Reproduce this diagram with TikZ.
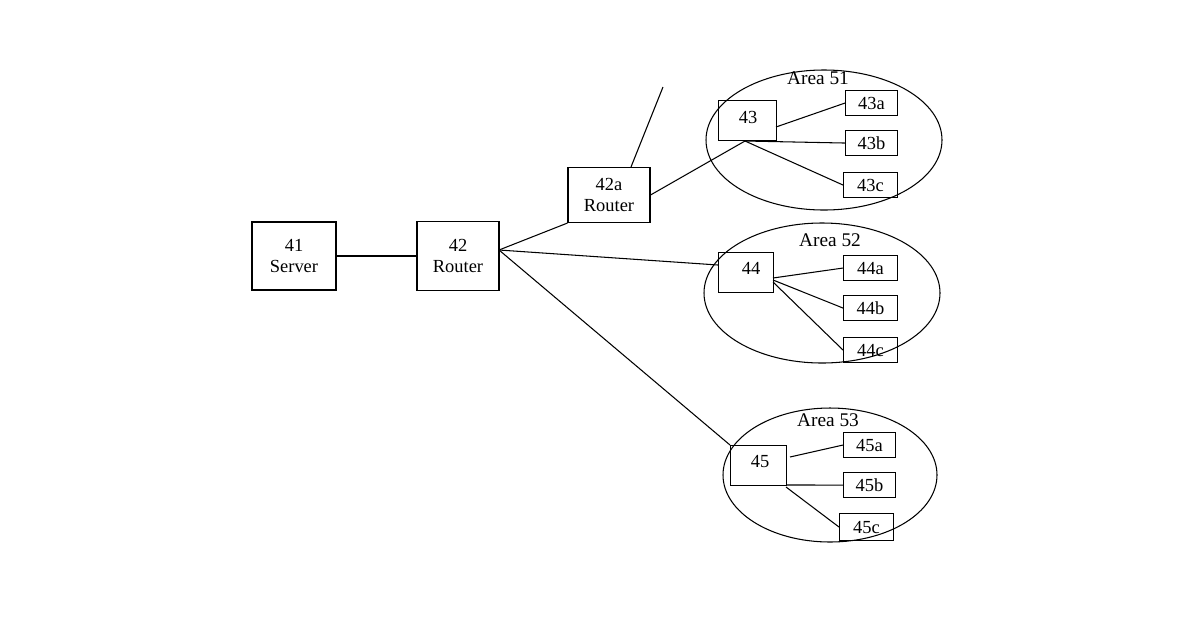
\documentclass[tikz,border=0pt]{standalone}
\usepackage{fontspec}
\setmainfont{Liberation Serif}
\begin{document}
\begin{tikzpicture}[x=0.02cm,y=-0.02cm,
  box/.style={draw,line width=0.6pt,inner sep=0pt,align=center,font=\fontsize{10.5pt}{12pt}\selectfont},
  ln/.style={line width=0.6pt},
  lab/.style={font=\fontsize{11pt}{13pt}\selectfont}]
\useasboundingbox (0,0) rectangle (1200,630);
\node[box,minimum width=84*0.02cm,minimum height=68*0.02cm] (s41) at (294,256) {41\\Server};
\node[box,minimum width=82*0.02cm,minimum height=69*0.02cm] (r42) at (458,256) {42\\Router};
\node[box,minimum width=82*0.02cm,minimum height=55*0.02cm] (r42a) at (609,195) {42a\\Router};
\coordinate (up) at (663,87);
\draw[ln] (r42a.north)++(22*0.02cm,0) coordinate (t) -- (up);
% Area 51
\draw[ln] (824,140) ellipse [x radius=118, y radius=70];
\node[lab] (a51) at (818,78) {Area 51};
\node[box,minimum width=58*0.02cm,minimum height=40*0.02cm,anchor=north west] (n43) at (718,100) {};
\node[font=\fontsize{10.5pt}{12pt}\selectfont] at (748,117) {43};
\node[box,minimum width=52*0.02cm,minimum height=25*0.02cm,anchor=north west] (n43a) at (845,90) {43a};
\node[box,minimum width=52*0.02cm,minimum height=25*0.02cm,anchor=north west] (n43b) at (845,130) {43b};
\node[box,minimum width=54*0.02cm,minimum height=25*0.02cm,anchor=north west] (n43c) at (843,172) {43c};
\coordinate (h43) at (745,141);
\draw[ln] (776,127) -- (n43a.west);
\draw[ln] (h43) -- (n43b.west);
\draw[ln] (h43) -- (n43c.west);
\draw[ln] (r42a.east) -- (h43);
% Area 52
\draw[ln] (822,293) ellipse [x radius=118, y radius=70];
\node[lab] (a52) at (830,240) {Area 52};
\node[box,minimum width=55*0.02cm,minimum height=40*0.02cm,anchor=north west] (n44) at (718,252) {};
\node[font=\fontsize{10.5pt}{12pt}\selectfont] at (751,268) {44};
\node[box,minimum width=54*0.02cm,minimum height=25*0.02cm,anchor=north west] (n44a) at (843,255) {44a};
\node[box,minimum width=54*0.02cm,minimum height=25*0.02cm,anchor=north west] (n44b) at (843,295) {44b};
\node[box,minimum width=54*0.02cm,minimum height=25*0.02cm,anchor=north west] (n44c) at (843,337) {44c};
\draw[ln] (773,278) -- (n44a.west);
\draw[ln] (773,280) -- (n44b.west);
\draw[ln] (773,282) -- (n44c.west);
\coordinate (hub) at (499,250);
\draw[ln] (hub) -- (718,265);
% Area 53
\draw[ln] (830,475) ellipse [x radius=107, y radius=67];
\node[lab] (a53) at (828,420) {Area 53};
\node[box,minimum width=56*0.02cm,minimum height=40*0.02cm,anchor=north west] (n45) at (730,445) {};
\node[font=\fontsize{10.5pt}{12pt}\selectfont] at (760,462) {45};
\node[box,minimum width=52*0.02cm,minimum height=25*0.02cm,anchor=north west] (n45a) at (843,432) {45a};
\node[box,minimum width=52*0.02cm,minimum height=25*0.02cm,anchor=north west] (n45b) at (843,472) {45b};
\node[box,minimum width=54*0.02cm,minimum height=27*0.02cm,anchor=north west] (n45c) at (839,513) {45c};
\draw[ln] (790,457) -- (n45a.west);
\draw[ln] (786,485) -- (n45b.west);
\draw[ln] (786,487) -- (n45c.west);
\draw[ln] (hub) -- (n45.north west);
\draw[ln] (hub) -- (r42a.south west);
\draw[ln] (s41) -- (r42);
\end{tikzpicture}
\end{document}
